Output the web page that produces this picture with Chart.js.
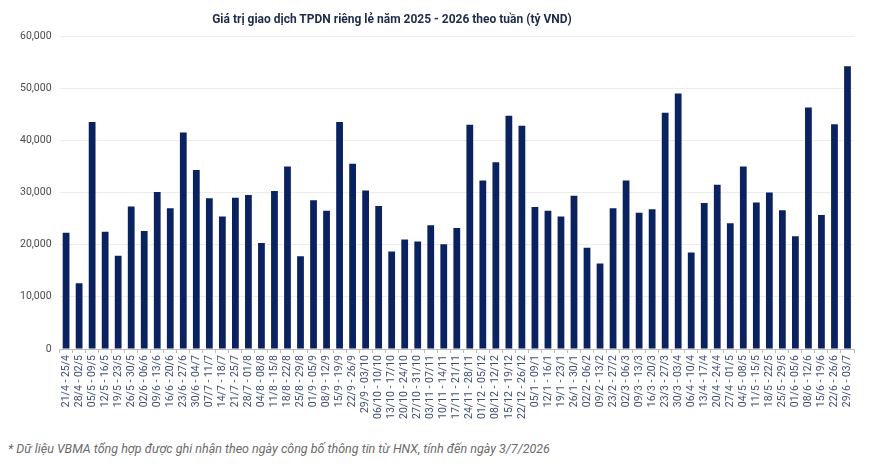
<!DOCTYPE html>
<html>
<head>
<meta charset="utf-8">
<script src="https://cdn.jsdelivr.net/npm/chart.js@4"></script>
<style>
  html,body{margin:0;padding:0;background:#fff;}
  #wrap{position:relative;width:883px;height:469px;font-family:Roboto,"Noto Sans",sans-serif;}
  #title{position:absolute;left:192px;width:400px;top:12px;text-align:center;font-size:12px;font-weight:bold;color:#1f2b4a;}
  #box{position:absolute;left:0;top:0;width:883px;height:421px;}
  #note{position:absolute;left:8px;top:441px;font-size:12.5px;font-style:italic;color:#6b6b6b;}
</style>
</head>
<body>
<div id="wrap">
  <div id="box"><canvas id="chart"></canvas></div>
  <div id="title">Giá trị giao dịch TPDN riêng lẻ năm 2025 - 2026 theo tuần (tỷ VND)</div>
  <div id="note">* Dữ liệu VBMA tổng hợp được ghi nhận theo ngày công bố thông tin từ HNX, tính đến ngày 3/7/2026</div>
</div>
<script>
// Tuần giao dịch (nhãn trục hoành)
const weeks = [
  '21/4 - 25/4','28/4 - 02/5','05/5 - 09/5','12/5 - 16/5','19/5 - 23/5','26/5 - 30/5',
  '02/6 - 06/6','09/6 - 13/6','16/6 - 20/6','23/6 - 27/6','30/6 - 04/7','07/7 - 11/7',
  '14/7 - 18/7','21/7 - 25/7','28/7 - 01/8','04/8 - 08/8','11/8 - 15/8','18/8 - 22/8',
  '25/8 - 29/8','01/9 - 05/9','08/9 - 12/9','15/9 - 19/9','22/9 - 26/9','29/9 - 03/10',
  '06/10 - 10/10','13/10 - 17/10','20/10 - 24/10','27/10 - 31/10','03/11 - 07/11','10/11 - 14/11',
  '17/11 - 21/11','24/11 - 28/11','01/12 - 05/12','08/12 - 12/12','15/12 - 19/12','22/12 - 26/12',
  '05/1 - 09/1','12/1 - 16/1','19/1 - 23/1','26/1 - 30/1','02/2 - 06/2','09/2 - 13/2',
  '23/2 - 27/2','02/3 - 06/3','09/3 - 13/3','16/3 - 20/3','23/3 - 27/3','30/3 - 03/4',
  '06/4 - 10/4','13/4 - 17/4','20/4 - 24/4','27/4 - 01/5','04/5 - 08/5','11/5 - 15/5',
  '18/5 - 22/5','25/5 - 29/5','01/6 - 05/6','08/6 - 12/6','15/6 - 19/6','22/6 - 26/6',
  '29/6 - 03/7'
];

// Giá trị giao dịch (tỷ VND)
const values = [
  22300,12600,43500,22500,17900,27300,22600,30100,27000,41500,34300,28900,
  25400,29000,29500,20300,30300,35000,17800,28500,26500,43500,35500,30400,
  27400,18700,21000,20600,23700,20100,23200,43000,32300,35800,44700,42800,
  27200,26500,25400,29400,19400,16400,27000,32300,26100,26800,45300,49000,
  18500,28000,31500,24100,35000,28100,30000,26600,21600,46300,25700,43100,
  54200
];

const yTicks = [0,10000,20000,30000,40000,50000,60000];

const navy = '#0b2260';

new Chart(document.getElementById('chart'), {
  type: 'bar',
  data: {
    labels: weeks,
    datasets: [{
      data: values,
      backgroundColor: navy,
      barPercentage: 0.52,
      categoryPercentage: 1.0
    }]
  },
  options: {
    responsive: true,
    maintainAspectRatio: false,
    animation: false,
    layout: {padding: {left: 12, right: 29, top: 36, bottom: 0}},
    plugins: {
      legend: {display: false},
      tooltip: {enabled: false},
      title: {display: false}
    },
    scales: {
      x: {
        grid: {display: true, drawOnChartArea: false, drawTicks: true, tickLength: 4, color: '#bdbdbd'},
        border: {display: true, color: '#bdbdbd'},
        ticks: {
          autoSkip: false,
          maxRotation: 90,
          minRotation: 90,
          padding: 2,
          color: '#3f4f73',
          font: {family: 'Roboto', size: 10.5}
        }
      },
      y: {
        min: 0,
        max: 60000,
        afterBuildTicks: axis => { axis.ticks = yTicks.map(v => ({value: v})); },
        grid: {color: '#ececec', drawTicks: false},
        border: {display: false},
        ticks: {
          padding: 8,
          color: '#4a4a4a',
          font: {family: 'Roboto', size: 10.5},
          callback: v => v.toLocaleString('en-US')
        }
      }
    }
  }
});
</script>
</body>
</html>
